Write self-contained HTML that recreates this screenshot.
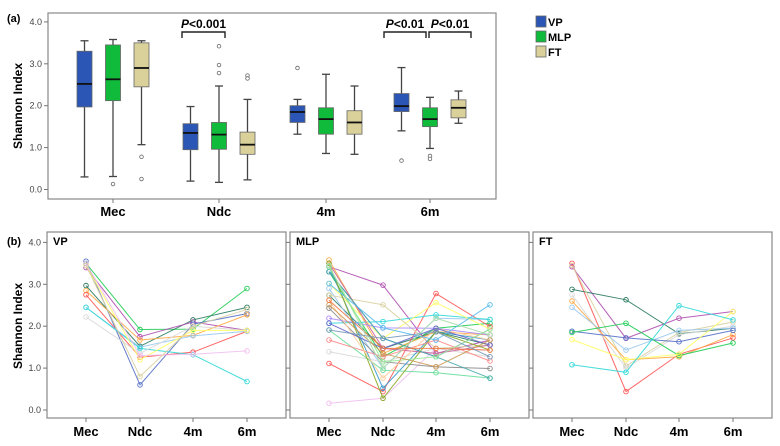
<!DOCTYPE html>
<html><head><meta charset="utf-8"><style>
body{margin:0;background:#fff;}
svg{display:block;font-family:"Liberation Sans",Arial,sans-serif;}
</style></head><body>
<svg id="chart" width="780" height="446" viewBox="0 0 780 446" xmlns="http://www.w3.org/2000/svg"></svg>
<script>
// ---- data: panel (a) boxplots ----
const categories = ["Mec","Ndc","4m","6m"];
const groups = ["VP","MLP","FT"];
const groupColors = ["#2b56b6","#10bb3c","#d9d09a"];
// [whiskerLow, Q1, median, Q3, whiskerHigh] per category per group
const vpBoxes  = [[0.30,1.97,2.52,3.30,3.55],[0.20,0.95,1.35,1.57,1.98],[1.32,1.60,1.85,2.00,2.15],[1.40,1.86,1.99,2.29,2.91]];
const mlpBoxes = [[0.31,2.12,2.63,3.45,3.58],[0.17,0.96,1.31,1.60,2.47],[0.86,1.32,1.68,1.95,2.75],[0.98,1.50,1.68,1.95,2.20]];
const ftBoxes  = [[1.07,2.45,2.90,3.50,3.55],[0.23,0.84,1.07,1.37,2.15],[0.84,1.32,1.60,1.88,2.47],[1.58,1.71,1.95,2.14,2.35]];
const vpOutliers  = [[],[],[2.90],[0.69]];
const mlpOutliers = [[0.13],[3.42,2.97,2.78],[],[0.80,0.73]];
const ftOutliers  = [[0.78,0.25],[2.72,2.65],[],[]];
const yTicks = [0,1,2,3,4];
const yTickLabels = ["0.0","1.0","2.0","3.0","4.0"];

// ---- data: panel (b) individual trajectories (Mec, Ndc, 4m, 6m) ----
const lineColors = ["#22cc55","#2a7a60","#b050b0","#5570c8","#ffaa44","#ff5555","#99c8f0","#33d8d8","#d8d8d8","#ffff66","#f0c0f0","#d8d0a0","#888888","#3399cc","#66dd99","#cc6699","#aa88ff","#88aa22","#ff8888","#44aaaa","#ffcc99","#6666cc","#99ee99","#cc9955","#55bbee","#ee7744","#7799bb","#aaddaa"];
const ftColors = ["#ff5555","#b050b0","#2a7a60","#d8d0a0","#d8d8d8","#ffaa44","#99c8f0","#5570c8","#22cc55","#ffff66","#33d8d8"];
const vpLines = [
 [3.50,1.92,1.93,2.90],[2.97,1.52,2.15,2.45],[3.40,1.75,2.10,1.90],[3.55,0.60,2.05,2.30],
 [2.85,1.67,1.78,2.27],[2.75,1.26,1.38,1.88],[2.45,1.50,1.77,1.88],[2.45,1.47,1.32,0.68],
 [2.22,1.35,2.00,1.90],[3.45,1.20,1.90,1.90],[3.50,1.30,1.33,1.41],[3.45,0.80,2.00,2.40]];
const mlpLines = [
 [3.30,1.27,1.95,2.07],[2.74,1.47,1.87,1.55],[3.42,2.98,1.35,1.67],[3.30,1.71,1.27,1.93],
 [3.58,1.35,1.87,1.79],[1.11,0.44,2.78,1.99],[2.90,1.00,2.19,2.16],[2.07,2.11,2.27,2.16],
 [1.39,1.15,1.47,1.27],[3.02,1.71,2.56,1.93],[0.16,0.28,1.47,1.43],[2.74,2.51,1.47,1.55],
 [2.43,1.15,1.03,0.99],[3.42,0.52,1.87,1.67],[1.91,0.95,0.89,0.76],[3.50,1.47,1.35,1.55],
 [2.19,1.96,1.95,1.79],[3.50,0.28,1.87,1.43],[1.67,1.27,1.67,1.17],[3.30,1.71,1.27,0.76],
 [2.62,0.76,1.95,1.67],[2.07,1.47,1.95,1.55],[3.42,1.15,1.27,1.93],[2.51,1.35,1.03,1.67],
 [3.02,1.96,1.67,2.51],[2.62,1.47,1.47,1.43],[1.91,1.71,1.87,1.27],[3.45,1.00,2.19,1.79]];
const ftLines = [
 [3.50,0.44,1.33,1.72],[3.42,1.71,2.19,2.35],[2.88,2.63,1.82,1.95],[3.45,1.05,1.85,2.10],
 [2.75,1.00,1.80,2.00],[2.60,1.20,1.27,1.80],[2.45,1.43,1.90,1.95],[1.88,1.72,1.63,1.90],
 [1.85,2.07,1.30,1.60],[1.68,1.20,1.33,2.35],[1.08,0.90,2.49,2.15]];

const svg = document.getElementById('chart');
const NS = "http://www.w3.org/2000/svg";
function mk(tag, attrs, parent){
  const e = document.createElementNS(NS, tag);
  for (const k in attrs) e.setAttribute(k, attrs[k]);
  (parent||svg).appendChild(e);
  return e;
}
function txt(s, attrs, parent){ const t = mk('text', attrs, parent); t.textContent = s; return t; }

// ---- panel (a) ----
const A = {x0:48, x1:496, y0:13, y1:199};
const ayScale = v => 189.5 - v*41.9;
const catX = [113,219,326,430];
const groupOffset = [-28.5, 0, 28.5];
const boxW = 15;

txt("(a)", {x:7, y:22, 'font-size':11, 'font-weight':'bold',  });
const af = mk('rect', {x:A.x0, y:A.y0, width:A.x1-A.x0, height:A.y1-A.y0, fill:'none', stroke:'#888', 'stroke-width':1.2});


const ayt = txt("Shannon Index", {x:0, y:0, transform:'translate(22,106) rotate(-90)', 'text-anchor':'middle', 'font-size':12, 'font-weight':'bold'});


yTicks.forEach((v,i)=>{
  const y = ayScale(v);
  const tk = mk('line', {x1:A.x0-4, x2:A.x0, y1:y, y2:y, stroke:'#777'});
  
  
  const tl = txt(yTickLabels[i], {x:A.x0-6, y:y+3, 'text-anchor':'end', 'font-size':9, fill:'#444'});
  
  
});
categories.forEach((c,i)=>{
  const tk = mk('line', {x1:catX[i], x2:catX[i], y1:A.y1, y2:A.y1+4, stroke:'#777'});
  
  
  const tl = txt(c, {x:catX[i], y:216, 'text-anchor':'middle', 'font-size':13, 'font-weight':'bold'});
  
  
});
const allBoxes = [vpBoxes, mlpBoxes, ftBoxes];
const allOut = [vpOutliers, mlpOutliers, ftOutliers];
allBoxes.forEach((boxes,g)=>{
  boxes.forEach((b,i)=>{
    const cx = catX[i] + groupOffset[g];
    const grp = mk('g', {});
    
    
    mk('line',{x1:cx,x2:cx,y1:ayScale(b[0]),y2:ayScale(b[1]),stroke:'#444','stroke-width':1.3},grp);
    mk('line',{x1:cx,x2:cx,y1:ayScale(b[3]),y2:ayScale(b[4]),stroke:'#444','stroke-width':1.3},grp);
    mk('line',{x1:cx-4,x2:cx+4,y1:ayScale(b[0]),y2:ayScale(b[0]),stroke:'#444','stroke-width':1.3},grp);
    mk('line',{x1:cx-4,x2:cx+4,y1:ayScale(b[4]),y2:ayScale(b[4]),stroke:'#444','stroke-width':1.3},grp);
    mk('rect',{x:cx-boxW/2,y:ayScale(b[3]),width:boxW,height:ayScale(b[1])-ayScale(b[3]),fill:groupColors[g],stroke:'#666','stroke-width':0.8},grp);
    mk('line',{x1:cx-boxW/2,x2:cx+boxW/2,y1:ayScale(b[2]),y2:ayScale(b[2]),stroke:'#111','stroke-width':1.8},grp);
    allOut[g][i].forEach(o=>{
      const c = mk('circle',{cx:cx,cy:ayScale(o),r:1.8,fill:'#fff',stroke:'#666','stroke-width':0.8},grp);
      
      
    });
  });
});
// significance brackets
function bracket(x1,x2,label,name){
  const g = mk('g',{});
  
  
  mk('path',{d:`M${x1},38 V32 H${x2} V38`,fill:'none',stroke:'#222','stroke-width':1.4},g);
  const t = mk('text',{x:(x1+x2)/2,y:28,'text-anchor':'middle','font-size':12,'font-weight':'bold'},g);
  const ts = mk('tspan',{'font-style':'italic'},t); ts.textContent='P';
  const t2 = mk('tspan',{},t); t2.textContent=label;
}
bracket(182,225,"<0.001","significance-ndc");
bracket(384,426,"<0.01","significance-6m-vp-mlp");
bracket(429,471,"<0.01","significance-6m-mlp-ft");
// legend
groups.forEach((gname,g)=>{
  const lg = mk('g',{});
  
  
  mk('rect',{x:536,y:16+g*15,width:10,height:11,fill:groupColors[g],stroke:'#666','stroke-width':0.8},lg);
  txt(gname,{x:548,y:26+g*15,'font-size':11,'font-weight':'bold'},lg);
});

// ---- panel (b) ----
const byScale = v => 410 - v*41.9;
const panels = [
  {name:'VP', x0:47, x1:286, xs:[86,140,193,247], lines:vpLines, colors:lineColors, axis:true},
  {name:'MLP', x0:290, x1:529, xs:[329,383,436,490], lines:mlpLines, colors:lineColors, axis:false},
  {name:'FT', x0:533, x1:772, xs:[572,626,679,733], lines:ftLines, colors:ftColors, axis:false}
];
txt("(b)", {x:7, y:245, 'font-size':11, 'font-weight':'bold',  });
const byt = txt("Shannon Index", {x:0, y:0, transform:'translate(22,326) rotate(-90)', 'text-anchor':'middle', 'font-size':12, 'font-weight':'bold'});


panels.forEach(p=>{
  const fr = mk('rect',{x:p.x0,y:232,width:p.x1-p.x0,height:186,fill:'none',stroke:'#888','stroke-width':1.2});
  
  
  const tt = txt(p.name,{x:p.x0+6,y:245,'font-size':11,'font-weight':'bold'});
  
  
  yTicks.forEach((v,i)=>{
    const y = byScale(v);
    const tk = mk('line',{x1:p.x0-4,x2:p.x0,y1:y,y2:y,stroke:'#777'});
    
    
    if(p.axis){
      const tl = txt(yTickLabels[i],{x:p.x0-6,y:y+3,'text-anchor':'end','font-size':9,fill:'#444'});
      
      
    }
  });
  categories.forEach((c,i)=>{
    const tk = mk('line',{x1:p.xs[i],x2:p.xs[i],y1:418,y2:422,stroke:'#777'});
    
    
    const tl = txt(c,{x:p.xs[i],y:436,'text-anchor':'middle','font-size':13,'font-weight':'bold'});
    
    
  });
  p.lines.forEach((vals,k)=>{
    const col = p.colors[k % p.colors.length];
    const g = mk('g',{});
    
    
    const pts = vals.map((v,i)=>p.xs[i]+','+byScale(v)).join(' ');
    mk('polyline',{points:pts,fill:'none',stroke:col,'stroke-width':1,opacity:0.9},g);
    vals.forEach((v,i)=>{
      mk('circle',{cx:p.xs[i],cy:byScale(v),r:2.3,fill:'none',stroke:col,'stroke-width':0.9},g);
    });
  });
});
</script>
</body></html>
